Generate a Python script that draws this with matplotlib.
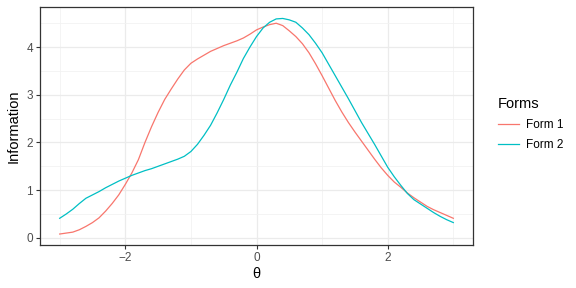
import matplotlib.pyplot as plt
from matplotlib.ticker import MultipleLocator

plt.rcParams['font.family'] = ['Liberation Sans', 'DejaVu Sans']

# test information curves
theta = [-3.0, -2.9, -2.8, -2.7, -2.6, -2.5, -2.4, -2.3, -2.2, -2.1,
         -2.0, -1.9, -1.8, -1.7, -1.6, -1.5, -1.4, -1.3, -1.2, -1.1,
         -1.0, -0.9, -0.8, -0.7, -0.6, -0.5, -0.4, -0.3, -0.2, -0.1,
         0.0, 0.1, 0.2, 0.3, 0.4, 0.5, 0.6, 0.7, 0.8, 0.9,
         1.0, 1.1, 1.2, 1.3, 1.4, 1.5, 1.6, 1.7, 1.8, 1.9,
         2.0, 2.1, 2.2, 2.3, 2.4, 2.5, 2.6, 2.7, 2.8, 2.9, 3.0]
form1 = [0.08, 0.10, 0.12, 0.17, 0.24, 0.32, 0.42, 0.56, 0.72, 0.90,
         1.12, 1.36, 1.64, 2.00, 2.33, 2.63, 2.90, 3.12, 3.33, 3.52,
         3.66, 3.75, 3.83, 3.91, 3.97, 4.03, 4.08, 4.13, 4.19, 4.27,
         4.36, 4.42, 4.47, 4.50, 4.45, 4.34, 4.22, 4.07, 3.88, 3.65,
         3.40, 3.14, 2.88, 2.64, 2.42, 2.22, 2.03, 1.84, 1.65, 1.47,
         1.31, 1.17, 1.06, 0.94, 0.84, 0.75, 0.66, 0.59, 0.53, 0.47, 0.41]
form2 = [0.41, 0.50, 0.60, 0.72, 0.83, 0.90, 0.97, 1.05, 1.12, 1.19,
         1.25, 1.31, 1.36, 1.41, 1.45, 1.50, 1.55, 1.60, 1.65, 1.71,
         1.81, 1.96, 2.15, 2.36, 2.62, 2.90, 3.20, 3.47, 3.76, 4.00,
         4.22, 4.40, 4.52, 4.59, 4.60, 4.57, 4.52, 4.40, 4.26, 4.08,
         3.88, 3.64, 3.40, 3.16, 2.92, 2.67, 2.42, 2.19, 1.96, 1.72,
         1.48, 1.28, 1.10, 0.93, 0.80, 0.71, 0.62, 0.53, 0.45, 0.38, 0.32]
labels = ['Form 1', 'Form 2']
colors = ['#F8766D', '#00BFC4']

fig = plt.figure(figsize=(5.76, 2.88), dpi=100)
ax = fig.add_axes([40/576, 43/288, 433/576, 238/288])

for y, lab, c in zip([form1, form2], labels, colors):
    ax.plot(theta, y, color=c, lw=0.9, label=lab)

ax.set_xlim(-3.3, 3.3)
ax.set_ylim(-0.15, 4.84)
ax.xaxis.set_major_locator(MultipleLocator(2))
ax.xaxis.set_minor_locator(MultipleLocator(1))
ax.yaxis.set_major_locator(MultipleLocator(1))
ax.yaxis.set_minor_locator(MultipleLocator(0.5))
ax.grid(which='major', color='#EBEBEB', lw=0.9)
ax.grid(which='minor', color='#F2F2F2', lw=0.6)
ax.set_axisbelow(True)
ax.tick_params(which='minor', length=0)
ax.tick_params(which='major', length=3, width=0.8, color='#333333',
               labelsize=8.5, labelcolor='#4D4D4D', pad=2)
for s in ax.spines.values():
    s.set_color('#333333')
    s.set_linewidth(0.9)

ax.set_xlabel('θ', fontsize=10.5, labelpad=2)
ax.set_ylabel('Information', fontsize=10.5, labelpad=4)

leg = ax.legend(loc='center left', bbox_to_anchor=(487/576, 164/288),
                bbox_transform=fig.transFigure, frameon=False,
                title='Forms', fontsize=8.5, title_fontsize=10.5,
                handlelength=1.8, handletextpad=0.6, labelspacing=0.7)
leg._legend_box.align = 'left'

fig.savefig('out.png', dpi=100)
